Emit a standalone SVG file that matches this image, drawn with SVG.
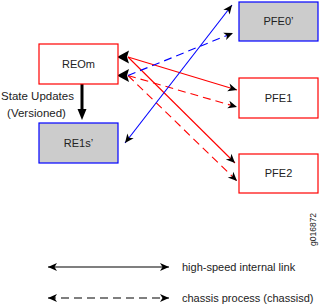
<svg xmlns="http://www.w3.org/2000/svg" width="319" height="308" viewBox="0 0 319 308">
<style>
  text { font-family: "Liberation Sans", Arial, sans-serif; font-size: 11px; fill: #222; }
  .lbl { text-anchor: middle; }
  .red { fill: #fff; stroke: #ff0000; stroke-width: 1.2; }
  .gray { fill: #cccccc; stroke: #0000ff; stroke-width: 1.2; }
  .l { fill: none; stroke-width: 1.1; }
  .r { stroke: #ff0000; }
  .b { stroke: #0000ff; }
  .k { stroke: #000; }
  .d { stroke-dasharray: 8 5; }
</style>
<defs>
  <marker id="ah" viewBox="-10 -5 11 10" refX="0" refY="0" markerWidth="11" markerHeight="10" orient="auto-start-reverse" markerUnits="userSpaceOnUse">
    <path d="M0,0 L-9,-4 L-6.5,0 L-9,4 Z" fill="#000"/>
  </marker>
</defs>

<g id="connectors">
  <!-- big arrowheads at REOm -->
  <polygon points="117,57 129,50.5 127,57 129,63.5" fill="#000"/>
  <polygon points="117,75.5 129,69 127,75.5 129,82" fill="#000"/>
  <!-- REOm to PFE1 / PFE2 (solid red) -->
  <line class="l r" x1="128" y1="57" x2="237" y2="90" marker-end="url(#ah)"/>
  <line class="l r" x1="128" y1="57" x2="235" y2="163" marker-end="url(#ah)"/>
  <!-- REOm to PFE1 / PFE2 (dashed red) -->
  <line class="l r d" x1="128" y1="75.5" x2="237" y2="107" marker-end="url(#ah)"/>
  <line class="l r d" x1="128" y1="75.5" x2="237" y2="181" marker-end="url(#ah)"/>
  <!-- REOm to PFE0' (dashed blue) -->
  <line class="l b d" x1="128" y1="75.5" x2="233" y2="33" marker-end="url(#ah)"/>
  <!-- RE1s' to PFE0' (solid blue, both ends) -->
  <line class="l b" x1="125" y1="143" x2="232" y2="5" marker-start="url(#ah)" marker-end="url(#ah)"/>
  <!-- State updates arrow -->
  <line x1="82" y1="84" x2="82" y2="112" stroke="#000" stroke-width="3"/>
  <polygon points="82,120 77.5,109 86.5,109" fill="#000"/>
  <!-- legend -->
  <line class="l k" x1="48" y1="267" x2="169" y2="267" marker-start="url(#ah)" marker-end="url(#ah)"/>
  <line class="l k d" x1="48" y1="298" x2="169" y2="298" marker-start="url(#ah)" marker-end="url(#ah)"/>
</g>

<g id="REOm">
  <rect class="red" x="39" y="44" width="79" height="40"/>
  <text class="lbl" x="78.5" y="68">REOm</text>
</g>
<g id="RE1s">
  <rect class="gray" x="39" y="123" width="79" height="40"/>
  <text class="lbl" x="78.5" y="147">RE1s’</text>
</g>
<g id="PFE0">
  <rect class="gray" x="239" y="2" width="79" height="39"/>
  <text class="lbl" x="278.5" y="25">PFE0’</text>
</g>
<g id="PFE1">
  <rect class="red" x="239" y="78" width="79" height="40"/>
  <text class="lbl" x="278.5" y="102">PFE1</text>
</g>
<g id="PFE2">
  <rect class="red" x="239" y="154" width="79" height="39"/>
  <text class="lbl" x="278.5" y="177">PFE2</text>
</g>

<g id="labels">
  <text class="lbl" x="37.5" y="100" style="font-size:11.5px">State Updates</text>
  <text class="lbl" x="36.5" y="117" style="font-size:11.5px">(Versioned)</text>
  <text x="182" y="271">high-speed internal link</text>
  <text x="182" y="302">chassis process (chassisd)</text>
  <text transform="translate(316,246) rotate(-90)" style="font-size:8.5px">g016872</text>
</g>
</svg>
